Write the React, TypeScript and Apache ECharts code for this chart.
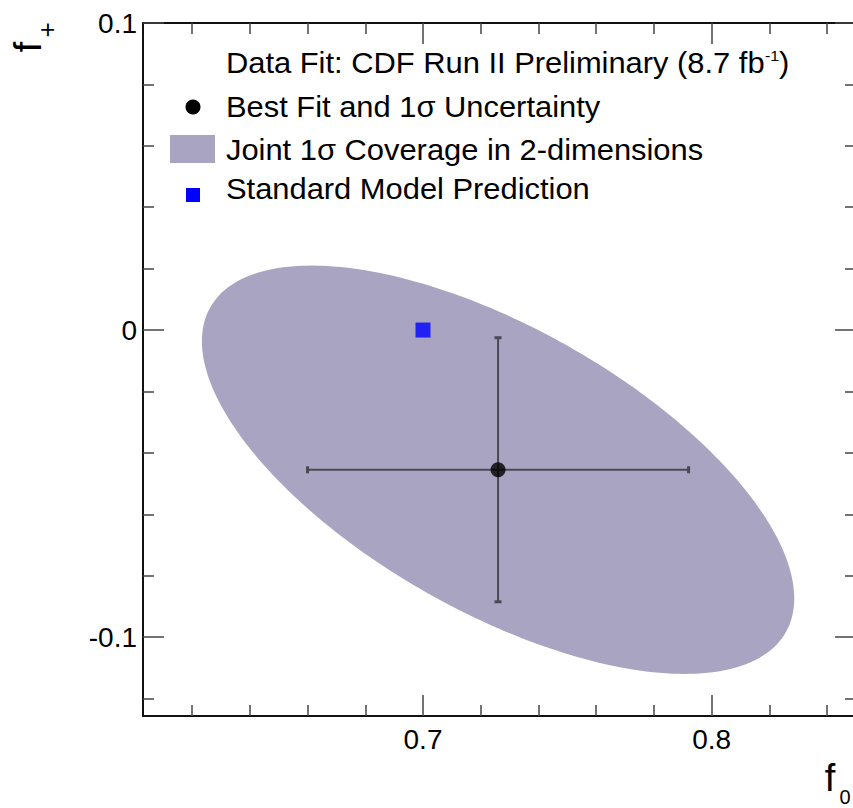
import React, { useEffect, useRef } from "react";
import * as echarts from "echarts";

// ---- data ----
const xRange = [0.603, 0.85];
const yRange = [-0.1257, 0.1];
const xMajorTicks = [0.7, 0.8];
const xMinorTicks = [0.62, 0.64, 0.66, 0.68, 0.72, 0.74, 0.76, 0.78, 0.82, 0.84];
const yMajorTicks = [-0.1, 0, 0.1];
const yMinorTicks = [-0.12, -0.08, -0.06, -0.04, -0.02, 0.02, 0.04, 0.06, 0.08];
const bestFit = [0.726, -0.0455];
const bestFitErr = [0.066, 0.043];
const coverageHalfExtent = [0.1026, 0.0665];
const coverageCorrelation = -0.63;
const smPrediction = [0.7, 0.0];
const legendLabels = [
  "Data Fit: CDF Run II Preliminary (8.7 fb{sup|-1})",
  "Best Fit and 1\u03c3 Uncertainty",
  "Joint 1\u03c3 Coverage in 2-dimensions",
  "Standard Model Prediction",
];

const FONT = "'Liberation Sans', Arial, Helvetica, sans-serif";
const ELLIPSE = "#a8a4c1";
const AXIS = "#111";
const TICK = "#444";
const LEGEND_SCALE_X = 1.065;

const fmt = (v: number) => String(Math.round(v * 100) / 100);

function makeAxis(kind: "x" | "y", position: string, major: boolean, showLine: boolean, showLabel: boolean) {
  const range = kind === "x" ? xRange : yRange;
  const ticks = kind === "x" ? (major ? xMajorTicks : xMinorTicks) : major ? yMajorTicks : yMinorTicks;
  return {
    type: "value",
    position,
    min: range[0],
    max: range[1],
    gridIndex: 0,
    splitLine: { show: false },
    axisLine: { show: showLine, onZero: false, lineStyle: { color: AXIS, width: 2 } },
    axisTick: {
      show: true,
      inside: true,
      length: major ? 21 : 11,
      customValues: ticks,
      lineStyle: { color: TICK, width: 1.5 },
    },
    minorTick: { show: false },
    axisLabel: {
      show: showLabel,
      customValues: major ? ticks : undefined,
      formatter: fmt,
      fontFamily: FONT,
      fontSize: 28,
      color: "#000",
      margin: kind === "x" ? 9 : 6,
    },
  };
}

function legendText(text: string, y: number, extra: any = {}) {
  return {
    type: "text",
    x: 226,
    y,
    scaleX: LEGEND_SCALE_X,
    style: {
      text,
      fontFamily: FONT,
      fontSize: 29,
      fill: "#000",
      align: "left",
      verticalAlign: "middle",
      ...extra,
    },
  };
}

export default function App() {
  const ref = useRef<HTMLDivElement>(null);
  useEffect(() => {
    if (!ref.current) return;
    const chart = echarts.init(ref.current, null, { renderer: "svg" });
    const option: any = {
      animation: false,
      backgroundColor: "#fff",
      grid: { left: 143, top: 23, width: 713, height: 693, outerBoundsMode: "none", containLabel: false },
      xAxis: [
        makeAxis("x", "bottom", true, true, true),
        makeAxis("x", "bottom", false, false, false),
        makeAxis("x", "top", true, true, false),
        makeAxis("x", "top", false, false, false),
      ],
      yAxis: [
        makeAxis("y", "left", true, true, true),
        makeAxis("y", "left", false, false, false),
        makeAxis("y", "right", true, true, false),
        makeAxis("y", "right", false, false, false),
      ],
      series: [
        {
          type: "custom",
          name: "Joint 1\u03c3 Coverage",
          xAxisIndex: 0,
          yAxisIndex: 0,
          silent: true,
          z: 1,
          data: [[bestFit[0], bestFit[1], coverageHalfExtent[0], coverageHalfExtent[1], coverageCorrelation]],
          renderItem: (params: any, api: any) => {
            const cx = api.value(0);
            const cy = api.value(1);
            const a = api.value(2);
            const b = api.value(3);
            const rho = api.value(4);
            const s = Math.sqrt(1 - rho * rho);
            const pts: number[][] = [];
            const N = 240;
            for (let i = 0; i < N; i++) {
              const t = (2 * Math.PI * i) / N;
              pts.push(api.coord([cx + a * Math.cos(t), cy + b * (rho * Math.cos(t) + s * Math.sin(t))]));
            }
            return { type: "polygon", shape: { points: pts }, style: { fill: ELLIPSE } };
          },
        },
        {
          type: "custom",
          name: "Best Fit errors",
          xAxisIndex: 0,
          yAxisIndex: 0,
          silent: true,
          z: 2,
          data: [[bestFit[0], bestFit[1], bestFitErr[0], bestFitErr[1]]],
          renderItem: (params: any, api: any) => {
            const x = api.value(0);
            const y = api.value(1);
            const ex = api.value(2);
            const ey = api.value(3);
            const l = api.coord([x - ex, y]);
            const r = api.coord([x + ex, y]);
            const t = api.coord([x, y + ey]);
            const b = api.coord([x, y - ey]);
            const st = { stroke: "#4a4a55", lineWidth: 2 };
            const c = 3.5;
            return {
              type: "group",
              children: [
                { type: "line", shape: { x1: l[0], y1: l[1], x2: r[0], y2: r[1] }, style: st },
                { type: "line", shape: { x1: t[0], y1: t[1], x2: b[0], y2: b[1] }, style: st },
                { type: "line", shape: { x1: l[0], y1: l[1] - c, x2: l[0], y2: l[1] + c }, style: { ...st, lineWidth: 3 } },
                { type: "line", shape: { x1: r[0], y1: r[1] - c, x2: r[0], y2: r[1] + c }, style: { ...st, lineWidth: 3 } },
                { type: "line", shape: { x1: t[0] - c, y1: t[1], x2: t[0] + c, y2: t[1] }, style: { ...st, lineWidth: 3 } },
                { type: "line", shape: { x1: b[0] - c, y1: b[1], x2: b[0] + c, y2: b[1] }, style: { ...st, lineWidth: 3 } },
              ],
            };
          },
        },
        {
          type: "scatter",
          name: "Best Fit",
          xAxisIndex: 0,
          yAxisIndex: 0,
          z: 3,
          symbol: "circle",
          symbolSize: 15,
          itemStyle: { color: "#000" },
          data: [bestFit],
        },
        {
          type: "scatter",
          name: "Standard Model Prediction",
          xAxisIndex: 0,
          yAxisIndex: 0,
          z: 4,
          symbol: "rect",
          symbolSize: 15,
          itemStyle: { color: "#0000ff" },
          data: [smPrediction],
        },
      ],
      graphic: [
        // y-axis title f_+
        {
          type: "text",
          x: 28,
          y: 47,
          rotation: Math.PI / 2,
          style: { text: "f", fontFamily: FONT, fontSize: 38, fill: "#000", align: "center", verticalAlign: "middle" },
        },
        {
          type: "text",
          x: 47,
          y: 30,
          rotation: Math.PI / 2,
          style: { text: "+", fontFamily: FONT, fontSize: 26, fill: "#000", align: "center", verticalAlign: "middle" },
        },
        // x-axis title f_0
        {
          type: "text",
          x: 830,
          y: 778,
          style: { text: "f", fontFamily: FONT, fontSize: 38, fill: "#000", align: "center", verticalAlign: "middle" },
        },
        {
          type: "text",
          x: 845,
          y: 797,
          style: { text: "0", fontFamily: FONT, fontSize: 20, fill: "#000", align: "center", verticalAlign: "middle" },
        },
        // legend
        legendText(legendLabels[0], 63, {
          rich: { sup: { fontFamily: FONT, fontSize: 15, verticalAlign: "top", fill: "#000" } },
        }),
        { type: "circle", shape: { cx: 193, cy: 107, r: 7.5 }, style: { fill: "#000" } },
        legendText(legendLabels[1], 107),
        { type: "rect", shape: { x: 170, y: 135, width: 45, height: 28 }, style: { fill: ELLIPSE } },
        legendText(legendLabels[2], 150),
        { type: "rect", shape: { x: 186, y: 188, width: 14, height: 14 }, style: { fill: "#0000ff" } },
        legendText(legendLabels[3], 189),
      ],
    };
    chart.setOption(option);
    return () => chart.dispose();
  }, []);
  return (
    <div
      ref={ref}
      style={{ position: "absolute", left: 0, top: 0, width: 853, height: 808, overflow: "hidden", background: "#fff" }}
    />
  );
}
